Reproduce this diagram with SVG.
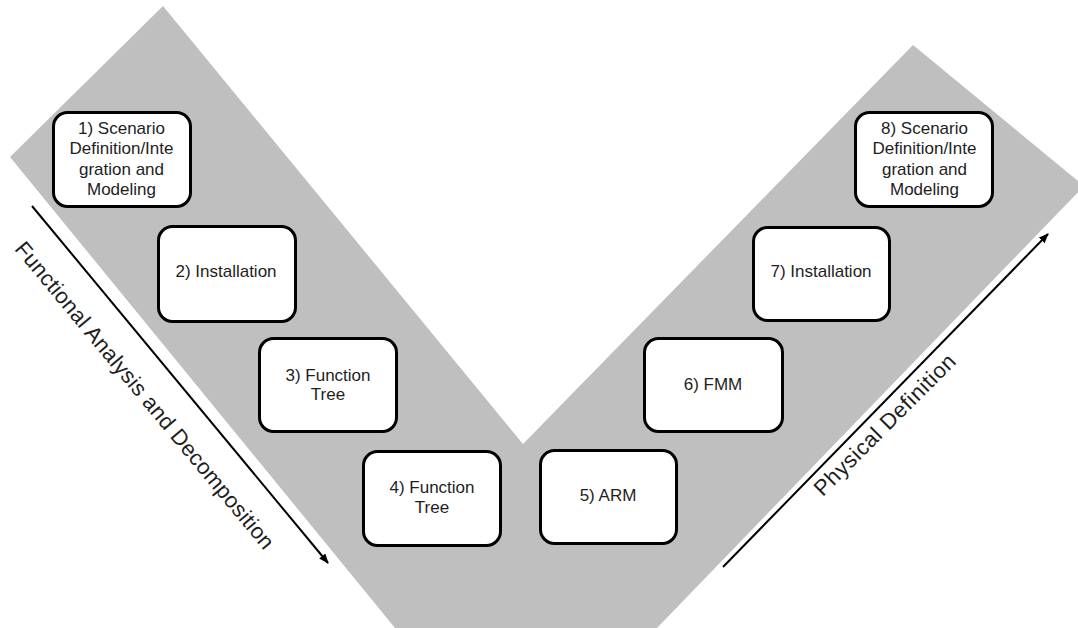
<svg xmlns="http://www.w3.org/2000/svg" width="1078" height="628" viewBox="0 0 1078 628">
  <style>
    .band { fill: #bfbfbf; }
    .box { fill: #ffffff; stroke: #000000; stroke-width: 3; }
    .lbl { font-family: "Liberation Sans", Arial, sans-serif; font-size: 17px; fill: #1e1e1e; text-anchor: middle; }
    .axis { stroke: #000000; stroke-width: 2; fill: none; }
    .axis-lbl { font-family: "Liberation Sans", Arial, sans-serif; font-size: 22px; fill: #1e1e1e; text-anchor: middle; }
  </style>
  <defs>
    <marker id="arrowhead" viewBox="0 0 10 8" refX="9" refY="4" markerWidth="10" markerHeight="8" markerUnits="userSpaceOnUse" orient="auto">
      <path d="M0,0 L10,4 L0,8 Z" fill="#000000"/>
    </marker>
  </defs>

  <!-- V-shaped process band -->
  <path class="band" d="M10,157 L163,6 L523,444 L913,45 L1084,186 L657,628 L395,628 Z"/>

  <!-- Steps -->
  <g id="step1">
    <rect class="box" x="53.5" y="112.5" width="137" height="94" rx="14"/>
    <text class="lbl" x="121.5" y="134">1) Scenario</text>
    <text class="lbl" x="121.5" y="154">Definition/Inte</text>
    <text class="lbl" x="121.5" y="175">gration and</text>
    <text class="lbl" x="121.5" y="195">Modeling</text>
  </g>
  <g id="step2">
    <rect class="box" x="158.5" y="226.5" width="137" height="95" rx="14"/>
    <text class="lbl" x="226" y="277">2) Installation</text>
  </g>
  <g id="step3">
    <rect class="box" x="259.5" y="338.5" width="137" height="93" rx="14"/>
    <text class="lbl" x="328" y="381">3) Function</text>
    <text class="lbl" x="328" y="400">Tree</text>
  </g>
  <g id="step4">
    <rect class="box" x="363.5" y="451.5" width="137" height="94" rx="14"/>
    <text class="lbl" x="432" y="493">4) Function</text>
    <text class="lbl" x="432" y="513">Tree</text>
  </g>
  <g id="step5">
    <rect class="box" x="540.5" y="450.5" width="136" height="93" rx="14"/>
    <text class="lbl" x="608" y="501">5) ARM</text>
  </g>
  <g id="step6">
    <rect class="box" x="644.5" y="338.5" width="138" height="93" rx="14"/>
    <text class="lbl" x="713" y="390">6) FMM</text>
  </g>
  <g id="step7">
    <rect class="box" x="753.5" y="227.5" width="136" height="93" rx="14"/>
    <text class="lbl" x="821" y="277">7) Installation</text>
  </g>
  <g id="step8">
    <rect class="box" x="855.5" y="112.5" width="137" height="94" rx="14"/>
    <text class="lbl" x="924.5" y="134">8) Scenario</text>
    <text class="lbl" x="924.5" y="154">Definition/Inte</text>
    <text class="lbl" x="924.5" y="175">gration and</text>
    <text class="lbl" x="924.5" y="195">Modeling</text>
  </g>

  <!-- Direction arrows -->
  <g id="connectors">
    <line class="axis" x1="32" y1="206" x2="328" y2="563" marker-end="url(#arrowhead)"/>
    <line class="axis" x1="723" y1="567" x2="1048" y2="234" marker-end="url(#arrowhead)"/>
  </g>

  <!-- Axis labels -->
  <text class="axis-lbl" transform="translate(139,400) rotate(50.3)" textLength="392" lengthAdjust="spacing" x="0" y="0">Functional Analysis and Decomposition</text>
  <text class="axis-lbl" transform="translate(890,430) rotate(-45)" textLength="190" lengthAdjust="spacing" x="0" y="0">Physical Definition</text>
</svg>
